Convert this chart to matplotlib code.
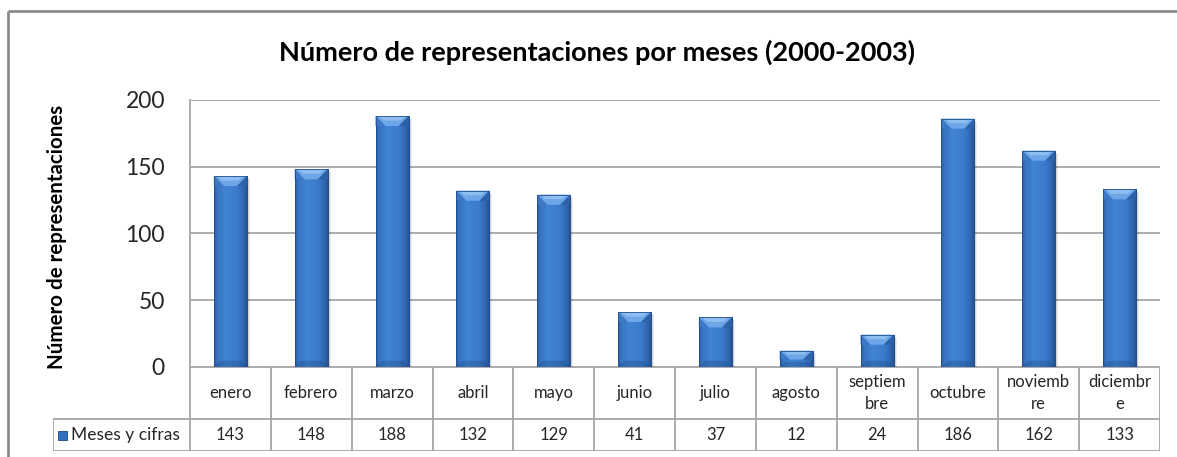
import matplotlib

matplotlib.use("Agg")
import matplotlib.pyplot as plt
import numpy as np
from matplotlib.colors import LinearSegmentedColormap
from matplotlib.lines import Line2D
from matplotlib.patches import Polygon, Rectangle

meses = ["enero", "febrero", "marzo", "abril", "mayo", "junio", "julio",
         "agosto", "septiem\nbre", "octubre", "noviemb\nre", "diciembr\ne"]
cifras = [143, 148, 188, 132, 129, 41, 37, 12, 24, 186, 162, 133]
serie = "Meses y cifras"
yticks = [0, 50, 100, 150, 200]

plt.rcParams["font.family"] = ["Lato", "DejaVu Sans"]
GRID = "#a6a6a6"
TXT = "#262626"

W, H = 1177, 457
fig = plt.figure(figsize=(W / 100, H / 100), dpi=100)
fig.patch.set_facecolor("white")

# outer chart frame (left and top edges only visible)
fig.add_artist(Line2D([8 / W, 8 / W], [0, 1 - 11 / H], color="#8c8c8c", lw=2,
                      solid_capstyle="butt"))
fig.add_artist(Line2D([8 / W, 1.01], [1 - 11 / H, 1 - 11 / H], color="#8c8c8c", lw=2,
                      solid_capstyle="butt"))

x0, x1 = 190 / W, 1160 / W
y_zero = 1 - 366.7 / H
y_top = 1 - 100 / H
ax = fig.add_axes([x0, y_zero, x1 - x0, y_top - y_zero])
ax.set_xlim(0, len(meses))
ax.set_ylim(0, 200)

for s in ["top", "right", "bottom"]:
    ax.spines[s].set_visible(False)
ax.spines["left"].set_color(GRID)
ax.spines["left"].set_linewidth(1.3)
ax.set_yticks(yticks)
ax.yaxis.grid(True, color=GRID, lw=1.3)
ax.set_axisbelow(True)
ax.tick_params(axis="y", length=0, pad=18, labelsize=16.5, labelcolor=TXT)
ax.set_xticks([])
ax.set_ylabel("Número de representaciones", fontsize=14.8, fontweight="bold",
              color="black", va="center", ha="center")
ax.yaxis.set_label_coords((57 - 190) / (1160 - 190), (366.7 - 237) / 266.7)

fig.text(597 / W, 1 - 52 / H,
         "Número de representaciones por meses (2000-2003)",
         ha="center", va="center", fontsize=19.5, fontweight="bold", color="black")

cmap = LinearSegmentedColormap.from_list(
    "cyl", [(0.0, "#28599c"), (0.08, "#3874c2"), (0.35, "#4184d4"),
            (0.7, "#3b7aca"), (0.88, "#2f66b0"), (1.0, "#244f8c")])
grad = np.linspace(0, 1, 64).reshape(1, -1)

xs = np.arange(len(meses)) + 0.5
bars = ax.bar(xs, cifras, width=0.41, color="none", edgecolor="none", zorder=3)

units_per_px = 200 / ((y_top - y_zero) * H)
cols_per_px = len(meses) / ((x1 - x0) * W)
for b in bars:
    bx, bw, bh = b.get_x(), b.get_width(), b.get_height()
    # soft drop shadow
    for k, a in [(3, 0.07), (2, 0.10), (1, 0.14)]:
        ax.add_patch(Rectangle((bx + k * cols_per_px, -k * units_per_px), bw, bh,
                               facecolor="black", alpha=a, lw=0, zorder=2))
    im = ax.imshow(grad, cmap=cmap, aspect="auto", extent=(bx, bx + bw, 0, bh),
                   zorder=3, interpolation="bicubic")
    im.set_clip_path(b)
    # bevelled top face
    bev = min(10 * units_per_px, bh * 0.55)
    ins = 0.3 * bw
    ax.add_patch(Polygon([(bx, bh), (bx + bw, bh), (bx + bw - ins, bh - bev),
                          (bx + ins, bh - bev)], closed=True,
                         facecolor="#6ea7e8", edgecolor="none", zorder=4))
    ax.add_patch(Polygon([(bx + 0.1 * bw, bh), (bx + 0.9 * bw, bh),
                          (bx + 0.75 * bw, bh - 0.45 * bev), (bx + 0.25 * bw, bh - 0.45 * bev)],
                         closed=True, facecolor="#8fbdf0", edgecolor="none", zorder=4))
    ax.add_patch(Polygon([(bx, bh), (bx + ins, bh - bev), (bx, bh - bev)], closed=True,
                         facecolor="#3c78c4", edgecolor="none", zorder=4))
    ax.add_patch(Polygon([(bx + bw, bh), (bx + bw - ins, bh - bev), (bx + bw, bh - bev)],
                         closed=True, facecolor="#2d61a8", edgecolor="none", zorder=4))
    # faint darker bevel along the base
    bb = min(6 * units_per_px, bh * 0.3)
    ax.add_patch(Polygon([(bx, 0), (bx + bw, 0), (bx + bw - ins * 0.6, bb),
                          (bx + ins * 0.6, bb)], closed=True,
                         facecolor="#1f4a85", alpha=0.35, edgecolor="none", zorder=4))
    ax.add_patch(Rectangle((bx, 0), bw, bh, facecolor="none", edgecolor="#24508c",
                           lw=0.6, zorder=5))

# data table under the plot
tx0 = 53 / W
ty0, ty1 = 1 - 451 / H, y_zero
tab = fig.add_axes([tx0, ty0, x1 - tx0, ty1 - ty0])
lead = (190 - 53) / ((1160 - 190) / len(meses))
tab.set_xlim(-lead, len(meses))
tab.set_ylim(0, 85)
tab.axis("off")
row_split = 451 - 419
lk = dict(color=GRID, lw=1.3, solid_capstyle="butt")
tab.plot([0, len(meses)], [85, 85], **lk)
tab.plot([-lead, len(meses)], [row_split, row_split], **lk)
tab.plot([-lead, len(meses)], [0, 0], **lk)
tab.plot([-lead, -lead], [0, row_split], **lk)
for i in range(len(meses) + 1):
    tab.plot([i, i], [0, 85], **lk)
for i, (m, v) in enumerate(zip(meses, cifras)):
    tab.text(i + 0.5, (85 + row_split) / 2, m, ha="center", va="center",
             fontsize=12, color=TXT, linespacing=1.45)
    tab.text(i + 0.5, row_split / 2, str(v), ha="center", va="center",
             fontsize=12, color=TXT)
tab.add_patch(Rectangle((-lead + 0.06, row_split / 2 - 4.5), 0.11, 9,
                        facecolor="#3470c0", edgecolor="#1d4a86", lw=0.6))
tab.text(-lead + 0.22, row_split / 2, serie, ha="left", va="center",
         fontsize=12.5, color=TXT)

fig.savefig("out.png", dpi=100)
